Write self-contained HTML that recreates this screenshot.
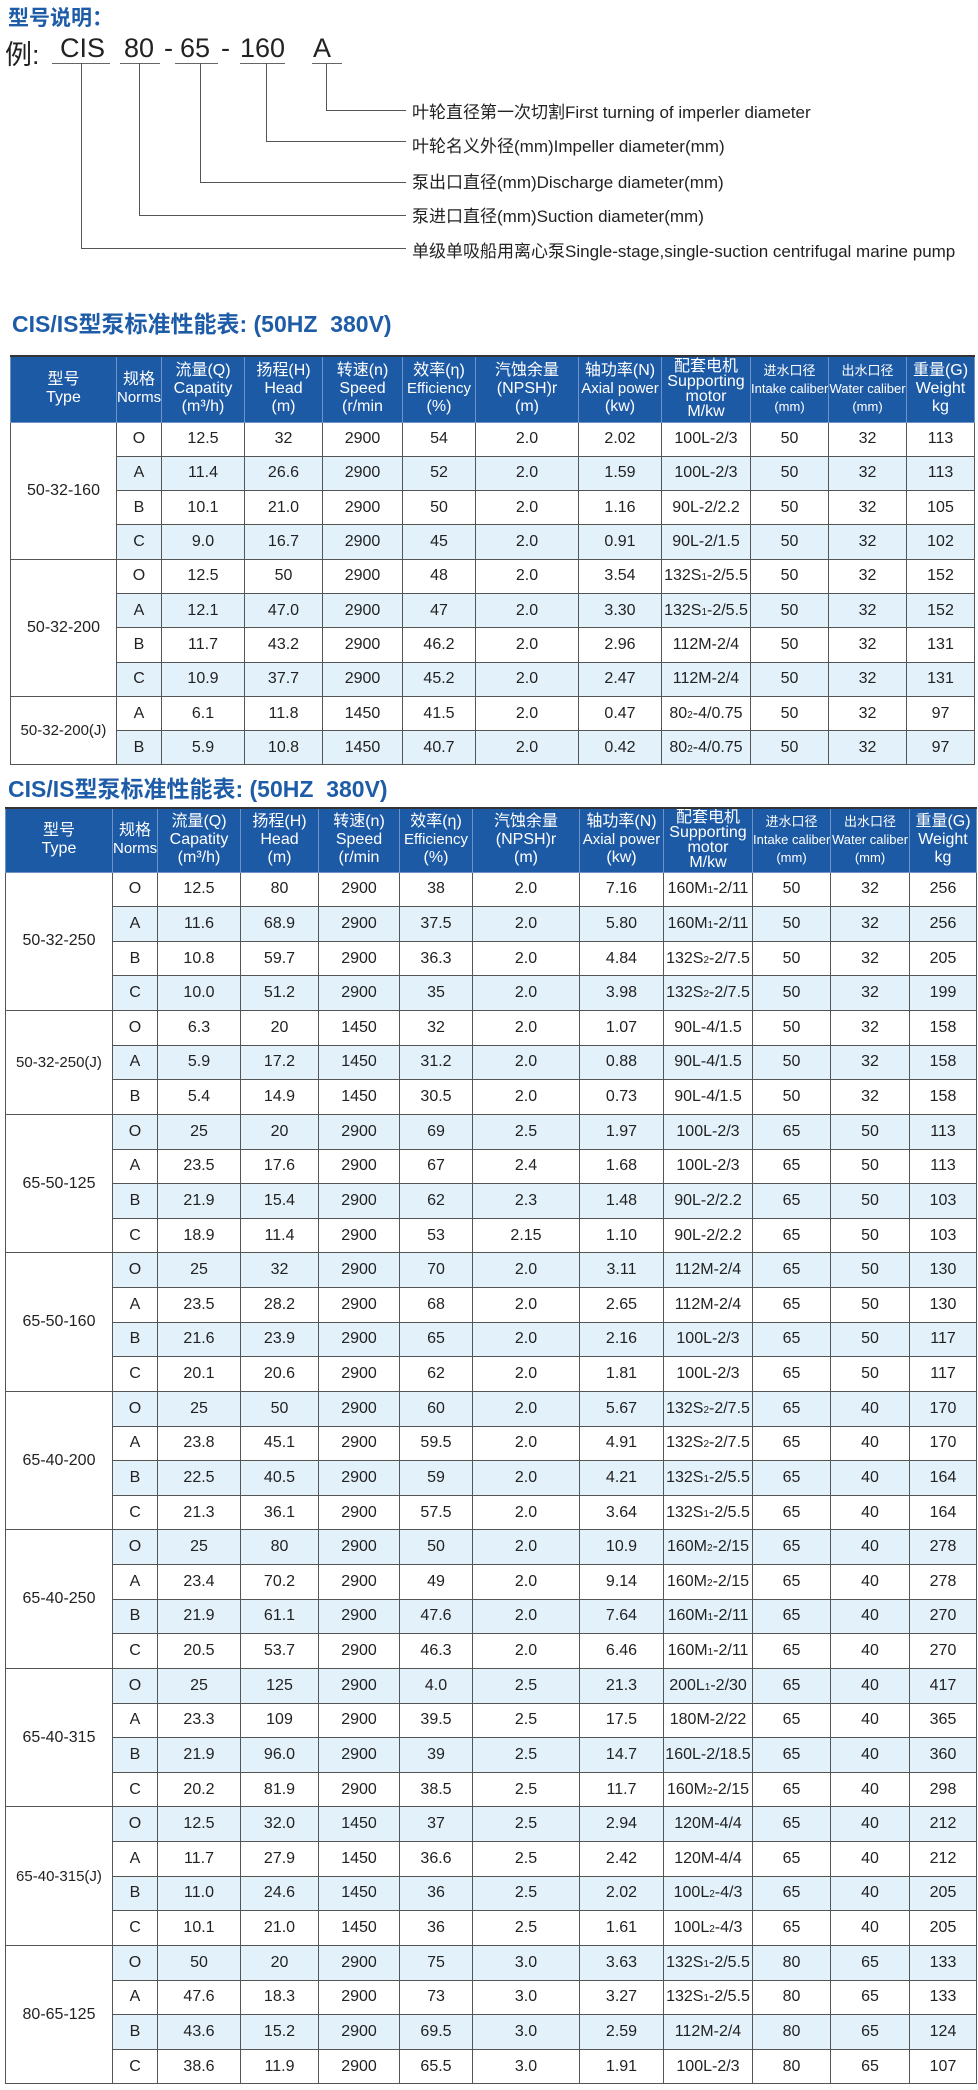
<!DOCTYPE html>
<html><head><meta charset="utf-8">
<style>
*{box-sizing:border-box;margin:0;padding:0}
body{width:978px;height:2090px;background:#fff;position:relative;overflow:hidden;font-family:"Liberation Sans","Noto Sans CJK SC",sans-serif;color:#222}
.abs{position:absolute;white-space:nowrap}
.h1{left:8px;top:2px;font-size:21px;font-weight:bold;color:#1e5ca8}
.ex{top:33px;font-size:27px;color:#222}
.ul{position:absolute;height:1px;background:#666}
.vl{position:absolute;width:1px;background:#555}
.hl{position:absolute;height:1px;background:#555}
.desc{left:412px;font-size:17px;color:#222;line-height:20px}
.ttl{font-size:23px;font-weight:bold;color:#1f5ca8}
table{position:absolute;border-collapse:collapse;table-layout:fixed;font-size:16px;text-align:center}
td,th{border:1px solid #555;padding:0;overflow:hidden;white-space:nowrap}
th{background:#1d5aa6;color:#fff;font-weight:normal;border:1px solid #6f93c6;border-top:2px solid #333;font-size:16px;line-height:18px;vertical-align:middle}
th .n{font-family:"Liberation Sans Narrow","Liberation Sans",sans-serif;font-size:15px}
tr.b td.d{background:#e3f1fb}
td.t{background:#fff}
small{font-size:10px}
</style></head><body>
<div class="abs h1">型号说明：</div>
<div class="abs ex" style="left:5px">例:</div>
<div class="abs ex" style="left:60px">CIS</div>
<div class="abs ex" style="left:124px">80</div>
<div class="abs ex" style="left:164px">-</div>
<div class="abs ex" style="left:180px">65</div>
<div class="abs ex" style="left:221px">-</div>
<div class="abs ex" style="left:240px">160</div>
<div class="abs ex" style="left:313px">A</div>
<div class="ul" style="left:52px;top:63px;width:58px"></div>
<div class="ul" style="left:120px;top:63px;width:40px"></div>
<div class="ul" style="left:175px;top:63px;width:43px"></div>
<div class="ul" style="left:240px;top:63px;width:45px"></div>
<div class="ul" style="left:312px;top:63px;width:30px"></div>
<div class="vl" style="left:326px;top:63px;height:47px"></div>
<div class="hl" style="left:326px;top:110px;width:80px"></div>
<div class="vl" style="left:266px;top:63px;height:78px"></div>
<div class="hl" style="left:266px;top:141px;width:140px"></div>
<div class="vl" style="left:200px;top:63px;height:119px"></div>
<div class="hl" style="left:200px;top:182px;width:206px"></div>
<div class="vl" style="left:139px;top:63px;height:152px"></div>
<div class="hl" style="left:139px;top:215px;width:267px"></div>
<div class="vl" style="left:81px;top:63px;height:185px"></div>
<div class="hl" style="left:81px;top:248px;width:325px"></div>
<div class="abs desc" style="top:103px">叶轮直径第一次切割First turning of imperler diameter</div>
<div class="abs desc" style="top:137px">叶轮名义外径(mm)Impeller diameter(mm)</div>
<div class="abs desc" style="top:173px">泵出口直径(mm)Discharge diameter(mm)</div>
<div class="abs desc" style="top:207px">泵进口直径(mm)Suction diameter(mm)</div>
<div class="abs desc" style="top:242px">单级单吸船用离心泵Single-stage,single-suction centrifugal marine pump</div>

<div class="abs ttl" style="left:12px;top:305px">CIS/IS型泵标准性能表: (50HZ&nbsp;&nbsp;380V)</div>

<table style="left:10px;top:355px;width:964px">
<colgroup><col style="width:106px"><col style="width:45px"><col style="width:83px"><col style="width:78px"><col style="width:80px"><col style="width:73px"><col style="width:103px"><col style="width:83px"><col style="width:89px"><col style="width:78px"><col style="width:78px"><col style="width:68px"></colgroup>
<tr style="height:66px"><th>型号<br>Type</th><th>规格<br><span class="n">Norms</span></th><th>流量(Q)<br>Capatity<br>(m³/h)</th><th>扬程(H)<br>Head<br>(m)</th><th>转速(n)<br>Speed<br>(r/min</th><th>效率(η)<br><span class="n">Efficiency</span><br>(%)</th><th>汽蚀余量<br>(NPSH)r<br>(m)</th><th>轴功率(N)<br><span class="n">Axial power</span><br>(kw)</th><th style="line-height:15px">配套电机<br>Supporting<br>motor<br>M/kw</th><th><span class="n" style="font-size:13px">进水口径<br>Intake caliber<br>(mm)</span></th><th><span class="n" style="font-size:13px">出水口径<br>Water caliber<br>(mm)</span></th><th>重量(G)<br>Weight<br>kg</th></tr>
<tr style="height:34.3px"><td class="t" rowspan="4">50-32-160</td><td class="d">O</td><td class="d">12.5</td><td class="d">32</td><td class="d">2900</td><td class="d">54</td><td class="d">2.0</td><td class="d">2.02</td><td class="d">100L-2/3</td><td class="d">50</td><td class="d">32</td><td class="d">113</td></tr>
<tr class="b" style="height:34.3px"><td class="d">A</td><td class="d">11.4</td><td class="d">26.6</td><td class="d">2900</td><td class="d">52</td><td class="d">2.0</td><td class="d">1.59</td><td class="d">100L-2/3</td><td class="d">50</td><td class="d">32</td><td class="d">113</td></tr>
<tr style="height:34.3px"><td class="d">B</td><td class="d">10.1</td><td class="d">21.0</td><td class="d">2900</td><td class="d">50</td><td class="d">2.0</td><td class="d">1.16</td><td class="d">90L-2/2.2</td><td class="d">50</td><td class="d">32</td><td class="d">105</td></tr>
<tr class="b" style="height:34.3px"><td class="d">C</td><td class="d">9.0</td><td class="d">16.7</td><td class="d">2900</td><td class="d">45</td><td class="d">2.0</td><td class="d">0.91</td><td class="d">90L-2/1.5</td><td class="d">50</td><td class="d">32</td><td class="d">102</td></tr>
<tr style="height:34.3px"><td class="t" rowspan="4">50-32-200</td><td class="d">O</td><td class="d">12.5</td><td class="d">50</td><td class="d">2900</td><td class="d">48</td><td class="d">2.0</td><td class="d">3.54</td><td class="d">132S<small>1</small>-2/5.5</td><td class="d">50</td><td class="d">32</td><td class="d">152</td></tr>
<tr class="b" style="height:34.3px"><td class="d">A</td><td class="d">12.1</td><td class="d">47.0</td><td class="d">2900</td><td class="d">47</td><td class="d">2.0</td><td class="d">3.30</td><td class="d">132S<small>1</small>-2/5.5</td><td class="d">50</td><td class="d">32</td><td class="d">152</td></tr>
<tr style="height:34.3px"><td class="d">B</td><td class="d">11.7</td><td class="d">43.2</td><td class="d">2900</td><td class="d">46.2</td><td class="d">2.0</td><td class="d">2.96</td><td class="d">112M-2/4</td><td class="d">50</td><td class="d">32</td><td class="d">131</td></tr>
<tr class="b" style="height:34.3px"><td class="d">C</td><td class="d">10.9</td><td class="d">37.7</td><td class="d">2900</td><td class="d">45.2</td><td class="d">2.0</td><td class="d">2.47</td><td class="d">112M-2/4</td><td class="d">50</td><td class="d">32</td><td class="d">131</td></tr>
<tr style="height:34.3px"><td class="t" rowspan="2" style="font-size:15px">50-32-200(J)</td><td class="d">A</td><td class="d">6.1</td><td class="d">11.8</td><td class="d">1450</td><td class="d">41.5</td><td class="d">2.0</td><td class="d">0.47</td><td class="d">80<small>2</small>-4/0.75</td><td class="d">50</td><td class="d">32</td><td class="d">97</td></tr>
<tr class="b" style="height:34.3px"><td class="d">B</td><td class="d">5.9</td><td class="d">10.8</td><td class="d">1450</td><td class="d">40.7</td><td class="d">2.0</td><td class="d">0.42</td><td class="d">80<small>2</small>-4/0.75</td><td class="d">50</td><td class="d">32</td><td class="d">97</td></tr>
</table>

<div class="abs ttl" style="left:8px;top:770px">CIS/IS型泵标准性能表: (50HZ&nbsp;&nbsp;380V)</div>

<table style="left:5px;top:807px;width:971px">
<colgroup><col style="width:107px"><col style="width:45px"><col style="width:83px"><col style="width:78px"><col style="width:81px"><col style="width:73px"><col style="width:107px"><col style="width:84px"><col style="width:89px"><col style="width:78px"><col style="width:79px"><col style="width:67px"></colgroup>
<tr style="height:64px"><th>型号<br>Type</th><th>规格<br><span class="n">Norms</span></th><th>流量(Q)<br>Capatity<br>(m³/h)</th><th>扬程(H)<br>Head<br>(m)</th><th>转速(n)<br>Speed<br>(r/min</th><th>效率(η)<br><span class="n">Efficiency</span><br>(%)</th><th>汽蚀余量<br>(NPSH)r<br>(m)</th><th>轴功率(N)<br><span class="n">Axial power</span><br>(kw)</th><th style="line-height:15px">配套电机<br>Supporting<br>motor<br>M/kw</th><th><span class="n" style="font-size:13px">进水口径<br>Intake caliber<br>(mm)</span></th><th><span class="n" style="font-size:13px">出水口径<br>Water caliber<br>(mm)</span></th><th>重量(G)<br>Weight<br>kg</th></tr>
<tr style="height:34.63px"><td class="t" rowspan="4">50-32-250</td><td class="d">O</td><td class="d">12.5</td><td class="d">80</td><td class="d">2900</td><td class="d">38</td><td class="d">2.0</td><td class="d">7.16</td><td class="d">160M<small>1</small>-2/11</td><td class="d">50</td><td class="d">32</td><td class="d">256</td></tr>
<tr class="b" style="height:34.63px"><td class="d">A</td><td class="d">11.6</td><td class="d">68.9</td><td class="d">2900</td><td class="d">37.5</td><td class="d">2.0</td><td class="d">5.80</td><td class="d">160M<small>1</small>-2/11</td><td class="d">50</td><td class="d">32</td><td class="d">256</td></tr>
<tr style="height:34.63px"><td class="d">B</td><td class="d">10.8</td><td class="d">59.7</td><td class="d">2900</td><td class="d">36.3</td><td class="d">2.0</td><td class="d">4.84</td><td class="d">132S<small>2</small>-2/7.5</td><td class="d">50</td><td class="d">32</td><td class="d">205</td></tr>
<tr class="b" style="height:34.63px"><td class="d">C</td><td class="d">10.0</td><td class="d">51.2</td><td class="d">2900</td><td class="d">35</td><td class="d">2.0</td><td class="d">3.98</td><td class="d">132S<small>2</small>-2/7.5</td><td class="d">50</td><td class="d">32</td><td class="d">199</td></tr>
<tr style="height:34.63px"><td class="t" rowspan="3" style="font-size:15px">50-32-250(J)</td><td class="d">O</td><td class="d">6.3</td><td class="d">20</td><td class="d">1450</td><td class="d">32</td><td class="d">2.0</td><td class="d">1.07</td><td class="d">90L-4/1.5</td><td class="d">50</td><td class="d">32</td><td class="d">158</td></tr>
<tr class="b" style="height:34.63px"><td class="d">A</td><td class="d">5.9</td><td class="d">17.2</td><td class="d">1450</td><td class="d">31.2</td><td class="d">2.0</td><td class="d">0.88</td><td class="d">90L-4/1.5</td><td class="d">50</td><td class="d">32</td><td class="d">158</td></tr>
<tr style="height:34.63px"><td class="d">B</td><td class="d">5.4</td><td class="d">14.9</td><td class="d">1450</td><td class="d">30.5</td><td class="d">2.0</td><td class="d">0.73</td><td class="d">90L-4/1.5</td><td class="d">50</td><td class="d">32</td><td class="d">158</td></tr>
<tr class="b" style="height:34.63px"><td class="t" rowspan="4">65-50-125</td><td class="d">O</td><td class="d">25</td><td class="d">20</td><td class="d">2900</td><td class="d">69</td><td class="d">2.5</td><td class="d">1.97</td><td class="d">100L-2/3</td><td class="d">65</td><td class="d">50</td><td class="d">113</td></tr>
<tr style="height:34.63px"><td class="d">A</td><td class="d">23.5</td><td class="d">17.6</td><td class="d">2900</td><td class="d">67</td><td class="d">2.4</td><td class="d">1.68</td><td class="d">100L-2/3</td><td class="d">65</td><td class="d">50</td><td class="d">113</td></tr>
<tr class="b" style="height:34.63px"><td class="d">B</td><td class="d">21.9</td><td class="d">15.4</td><td class="d">2900</td><td class="d">62</td><td class="d">2.3</td><td class="d">1.48</td><td class="d">90L-2/2.2</td><td class="d">65</td><td class="d">50</td><td class="d">103</td></tr>
<tr style="height:34.63px"><td class="d">C</td><td class="d">18.9</td><td class="d">11.4</td><td class="d">2900</td><td class="d">53</td><td class="d">2.15</td><td class="d">1.10</td><td class="d">90L-2/2.2</td><td class="d">65</td><td class="d">50</td><td class="d">103</td></tr>
<tr class="b" style="height:34.63px"><td class="t" rowspan="4">65-50-160</td><td class="d">O</td><td class="d">25</td><td class="d">32</td><td class="d">2900</td><td class="d">70</td><td class="d">2.0</td><td class="d">3.11</td><td class="d">112M-2/4</td><td class="d">65</td><td class="d">50</td><td class="d">130</td></tr>
<tr style="height:34.63px"><td class="d">A</td><td class="d">23.5</td><td class="d">28.2</td><td class="d">2900</td><td class="d">68</td><td class="d">2.0</td><td class="d">2.65</td><td class="d">112M-2/4</td><td class="d">65</td><td class="d">50</td><td class="d">130</td></tr>
<tr class="b" style="height:34.63px"><td class="d">B</td><td class="d">21.6</td><td class="d">23.9</td><td class="d">2900</td><td class="d">65</td><td class="d">2.0</td><td class="d">2.16</td><td class="d">100L-2/3</td><td class="d">65</td><td class="d">50</td><td class="d">117</td></tr>
<tr style="height:34.63px"><td class="d">C</td><td class="d">20.1</td><td class="d">20.6</td><td class="d">2900</td><td class="d">62</td><td class="d">2.0</td><td class="d">1.81</td><td class="d">100L-2/3</td><td class="d">65</td><td class="d">50</td><td class="d">117</td></tr>
<tr class="b" style="height:34.63px"><td class="t" rowspan="4">65-40-200</td><td class="d">O</td><td class="d">25</td><td class="d">50</td><td class="d">2900</td><td class="d">60</td><td class="d">2.0</td><td class="d">5.67</td><td class="d">132S<small>2</small>-2/7.5</td><td class="d">65</td><td class="d">40</td><td class="d">170</td></tr>
<tr style="height:34.63px"><td class="d">A</td><td class="d">23.8</td><td class="d">45.1</td><td class="d">2900</td><td class="d">59.5</td><td class="d">2.0</td><td class="d">4.91</td><td class="d">132S<small>2</small>-2/7.5</td><td class="d">65</td><td class="d">40</td><td class="d">170</td></tr>
<tr class="b" style="height:34.63px"><td class="d">B</td><td class="d">22.5</td><td class="d">40.5</td><td class="d">2900</td><td class="d">59</td><td class="d">2.0</td><td class="d">4.21</td><td class="d">132S<small>1</small>-2/5.5</td><td class="d">65</td><td class="d">40</td><td class="d">164</td></tr>
<tr style="height:34.63px"><td class="d">C</td><td class="d">21.3</td><td class="d">36.1</td><td class="d">2900</td><td class="d">57.5</td><td class="d">2.0</td><td class="d">3.64</td><td class="d">132S<small>1</small>-2/5.5</td><td class="d">65</td><td class="d">40</td><td class="d">164</td></tr>
<tr class="b" style="height:34.63px"><td class="t" rowspan="4">65-40-250</td><td class="d">O</td><td class="d">25</td><td class="d">80</td><td class="d">2900</td><td class="d">50</td><td class="d">2.0</td><td class="d">10.9</td><td class="d">160M<small>2</small>-2/15</td><td class="d">65</td><td class="d">40</td><td class="d">278</td></tr>
<tr style="height:34.63px"><td class="d">A</td><td class="d">23.4</td><td class="d">70.2</td><td class="d">2900</td><td class="d">49</td><td class="d">2.0</td><td class="d">9.14</td><td class="d">160M<small>2</small>-2/15</td><td class="d">65</td><td class="d">40</td><td class="d">278</td></tr>
<tr class="b" style="height:34.63px"><td class="d">B</td><td class="d">21.9</td><td class="d">61.1</td><td class="d">2900</td><td class="d">47.6</td><td class="d">2.0</td><td class="d">7.64</td><td class="d">160M<small>1</small>-2/11</td><td class="d">65</td><td class="d">40</td><td class="d">270</td></tr>
<tr style="height:34.63px"><td class="d">C</td><td class="d">20.5</td><td class="d">53.7</td><td class="d">2900</td><td class="d">46.3</td><td class="d">2.0</td><td class="d">6.46</td><td class="d">160M<small>1</small>-2/11</td><td class="d">65</td><td class="d">40</td><td class="d">270</td></tr>
<tr class="b" style="height:34.63px"><td class="t" rowspan="4">65-40-315</td><td class="d">O</td><td class="d">25</td><td class="d">125</td><td class="d">2900</td><td class="d">4.0</td><td class="d">2.5</td><td class="d">21.3</td><td class="d">200L<small>1</small>-2/30</td><td class="d">65</td><td class="d">40</td><td class="d">417</td></tr>
<tr style="height:34.63px"><td class="d">A</td><td class="d">23.3</td><td class="d">109</td><td class="d">2900</td><td class="d">39.5</td><td class="d">2.5</td><td class="d">17.5</td><td class="d">180M-2/22</td><td class="d">65</td><td class="d">40</td><td class="d">365</td></tr>
<tr class="b" style="height:34.63px"><td class="d">B</td><td class="d">21.9</td><td class="d">96.0</td><td class="d">2900</td><td class="d">39</td><td class="d">2.5</td><td class="d">14.7</td><td class="d">160L-2/18.5</td><td class="d">65</td><td class="d">40</td><td class="d">360</td></tr>
<tr style="height:34.63px"><td class="d">C</td><td class="d">20.2</td><td class="d">81.9</td><td class="d">2900</td><td class="d">38.5</td><td class="d">2.5</td><td class="d">11.7</td><td class="d">160M<small>2</small>-2/15</td><td class="d">65</td><td class="d">40</td><td class="d">298</td></tr>
<tr class="b" style="height:34.63px"><td class="t" rowspan="4" style="font-size:15px">65-40-315(J)</td><td class="d">O</td><td class="d">12.5</td><td class="d">32.0</td><td class="d">1450</td><td class="d">37</td><td class="d">2.5</td><td class="d">2.94</td><td class="d">120M-4/4</td><td class="d">65</td><td class="d">40</td><td class="d">212</td></tr>
<tr style="height:34.63px"><td class="d">A</td><td class="d">11.7</td><td class="d">27.9</td><td class="d">1450</td><td class="d">36.6</td><td class="d">2.5</td><td class="d">2.42</td><td class="d">120M-4/4</td><td class="d">65</td><td class="d">40</td><td class="d">212</td></tr>
<tr class="b" style="height:34.63px"><td class="d">B</td><td class="d">11.0</td><td class="d">24.6</td><td class="d">1450</td><td class="d">36</td><td class="d">2.5</td><td class="d">2.02</td><td class="d">100L<small>2</small>-4/3</td><td class="d">65</td><td class="d">40</td><td class="d">205</td></tr>
<tr style="height:34.63px"><td class="d">C</td><td class="d">10.1</td><td class="d">21.0</td><td class="d">1450</td><td class="d">36</td><td class="d">2.5</td><td class="d">1.61</td><td class="d">100L<small>2</small>-4/3</td><td class="d">65</td><td class="d">40</td><td class="d">205</td></tr>
<tr class="b" style="height:34.63px"><td class="t" rowspan="4">80-65-125</td><td class="d">O</td><td class="d">50</td><td class="d">20</td><td class="d">2900</td><td class="d">75</td><td class="d">3.0</td><td class="d">3.63</td><td class="d">132S<small>1</small>-2/5.5</td><td class="d">80</td><td class="d">65</td><td class="d">133</td></tr>
<tr style="height:34.63px"><td class="d">A</td><td class="d">47.6</td><td class="d">18.3</td><td class="d">2900</td><td class="d">73</td><td class="d">3.0</td><td class="d">3.27</td><td class="d">132S<small>1</small>-2/5.5</td><td class="d">80</td><td class="d">65</td><td class="d">133</td></tr>
<tr class="b" style="height:34.63px"><td class="d">B</td><td class="d">43.6</td><td class="d">15.2</td><td class="d">2900</td><td class="d">69.5</td><td class="d">3.0</td><td class="d">2.59</td><td class="d">112M-2/4</td><td class="d">80</td><td class="d">65</td><td class="d">124</td></tr>
<tr style="height:34.63px"><td class="d">C</td><td class="d">38.6</td><td class="d">11.9</td><td class="d">2900</td><td class="d">65.5</td><td class="d">3.0</td><td class="d">1.91</td><td class="d">100L-2/3</td><td class="d">80</td><td class="d">65</td><td class="d">107</td></tr>
</table>
</body></html>
